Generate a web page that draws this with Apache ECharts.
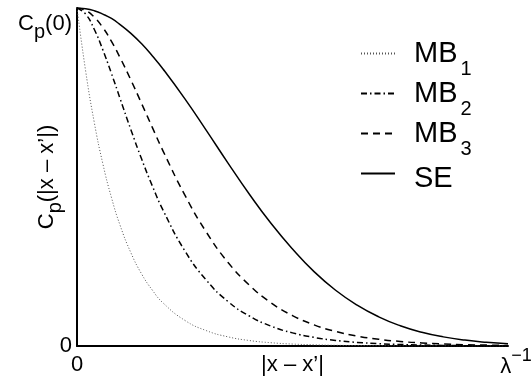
<!DOCTYPE html>
<html>
<head>
<meta charset="utf-8">
<script src="https://cdn.jsdelivr.net/npm/echarts@6/dist/echarts.min.js"></script>
<style>html,body{margin:0;padding:0;background:#fff;}#c{width:531px;height:387px;}</style>
</head>
<body>
<div id="c"></div>
<script>
// distance |x - x'| in units of lambda^-1
const xs = [0, 0.02, 0.04, 0.06, 0.08, 0.10, 0.125, 0.15, 0.175, 0.2, 0.25, 0.3, 0.35, 0.4, 0.45, 0.5, 0.55, 0.6, 0.65, 0.7, 0.75, 0.8, 0.85, 0.9, 0.95, 1.0];
const mb1 = [1, 0.814, 0.662, 0.539, 0.439, 0.357, 0.276, 0.213, 0.165, 0.127, 0.076, 0.0455, 0.0272, 0.0162, 0.0097, 0.0058, 0.0035, 0.0021, 0.0012, 0.0007, 0.0004, 0.0003, 0.0002, 0.0001, 0.0001, 0.0];
const mb2 = [1, 0.982, 0.937, 0.876, 0.806, 0.732, 0.640, 0.553, 0.473, 0.401, 0.282, 0.195, 0.132, 0.0887, 0.0589, 0.0388, 0.0254, 0.0165, 0.0107, 0.0069, 0.0044, 0.0028, 0.0018, 0.0011, 0.0007, 0.0005];
const mb3 = [1, 0.993, 0.973, 0.942, 0.901, 0.853, 0.787, 0.717, 0.646, 0.576, 0.447, 0.337, 0.248, 0.180, 0.128, 0.0901, 0.0626, 0.0431, 0.0294, 0.0199, 0.0134, 0.0090, 0.0060, 0.0039, 0.0026, 0.0017];
const se  = [1, 0.998, 0.992, 0.982, 0.969, 0.951, 0.925, 0.894, 0.858, 0.819, 0.732, 0.638, 0.542, 0.449, 0.363, 0.287, 0.220, 0.165, 0.121, 0.0863, 0.060, 0.0408, 0.027, 0.0174, 0.011, 0.0067];
const seriesNames = ['MB1', 'MB2', 'MB3', 'SE'];
const legendLabels = {MB1: '{m|MB}{s|1}', MB2: '{m|MB}{s|2}', MB3: '{m|MB}{s|3}', SE: '{e|SE}'};
const xTickLabels = {0: '{a|0}', 0.5: '{a|\u007Cx \u2013 x\u2019\u007C}', 1: '{l|\u03BB}{u|\u22121}'};
const yTickLabels = {0: '0', 1: '{c|C}{p|p}{c|(0)}'};
const yTitle = '{m|C}{s|p}{m|(\u007Cx \u2013 x\u2019\u007C)}';

const FONT = 'Liberation Sans, Arial, Helvetica, sans-serif';
const chart = echarts.init(document.getElementById('c'), null, {renderer: 'canvas'});
const pairs = arr => xs.map((x, i) => [x, arr[i]]);
const styles = [
  {color: '#555', width: 1, type: [1, 2]},
  {color: '#000', width: 1.5, type: [6, 3, 1.5, 3]},
  {color: '#000', width: 1.5, type: [7, 5]},
  {color: '#000', width: 1.5, type: 'solid'}
];
const dataArr = [mb1, mb2, mb3, se];
const T = (size, extra) => Object.assign({fontSize: size, fontFamily: FONT, color: '#000', verticalAlign: 'top'}, extra || {});

chart.setOption({
  animation: false,
  backgroundColor: '#fff',
  grid: {left: 77, right: 23, top: 8, bottom: 41, containLabel: false, outerBoundsMode: 'none'},
  legend: {
    orient: 'vertical', left: 355, top: 34, itemWidth: 34, itemHeight: 14, itemGap: 0,
    data: seriesNames,
    itemStyle: {opacity: 0},
    formatter: n => legendLabels[n],
    textStyle: {
      color: '#000', fontFamily: FONT, fontSize: 29,
      rich: {
        m: T(29, {lineHeight: 29, padding: [0, 0, 0, 14]}),
        s: T(20, {lineHeight: 20, padding: [20, 0, 0, 3]}),
        e: T(29, {lineHeight: 29, padding: [5.5, 0, 5.5, 14]})
      }
    }
  },
  xAxis: {
    type: 'value', min: 0, max: 1, interval: 0.5,
    axisLine: {lineStyle: {color: '#000', width: 2}},
    axisTick: {show: false}, splitLine: {show: false},
    axisLabel: {
      showMinLabel: true, showMaxLabel: true, margin: 1,
      formatter: v => xTickLabels[v] || '',
      color: '#000', fontFamily: FONT, fontSize: 22,
      rich: {
        a: T(22, {padding: [7, 0, 0, 0]}),
        l: T(22, {padding: [9, 0, 0, 16]}),
        u: T(18, {padding: [0, 0, 0, 0]})
      }
    }
  },
  yAxis: {
    type: 'value', min: 0, max: 1, interval: 1,
    name: yTitle, nameLocation: 'middle', nameGap: 12, nameRotate: 90, nameMoveOverlap: false,
    nameTextStyle: {
      color: '#000', fontFamily: FONT, fontSize: 22,
      rich: {
        m: T(22),
        s: T(20, {padding: [9, 0, 0, 0]})
      }
    },
    axisLine: {lineStyle: {color: '#000', width: 2}},
    axisTick: {show: false}, splitLine: {show: false},
    axisLabel: {
      showMinLabel: true, showMaxLabel: true, margin: 5,
      formatter: v => yTickLabels[v] || '',
      color: '#000', fontFamily: FONT, fontSize: 22,
      rich: {
        c: T(22, {padding: [39, 0, 0, 0]}),
        p: T(20, {padding: [48, 0, 0, 0]})
      }
    }
  },
  series: seriesNames.map((n, i) => ({
    name: n, type: 'line', data: pairs(dataArr[i]),
    showSymbol: false, symbol: 'none', smooth: 0.5,
    lineStyle: styles[i], itemStyle: {color: styles[i].color},
    z: 2
  }))
});
</script>
</body>
</html>
